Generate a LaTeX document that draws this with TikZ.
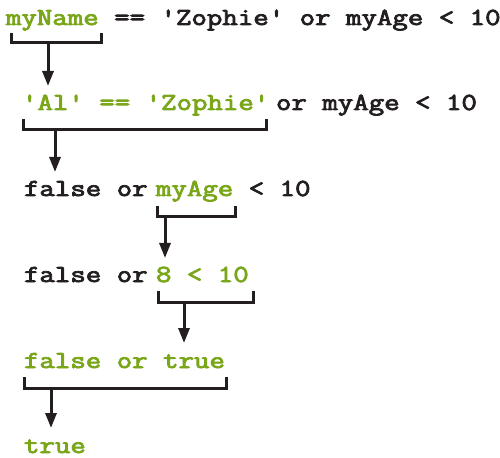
\documentclass[tikz,border=0pt]{standalone}
\usepackage{fontspec}
\newfontfamily\codefont{Latin Modern Mono}[FakeBold=3]
\usetikzlibrary{arrows.meta}
\definecolor{codegreen}{RGB}{122,166,26}
\definecolor{codeblack}{RGB}{35,31,32}
\newcommand{\codetxt}[1]{\scalebox{1.225}[1]{\fontsize{24.5bp}{30bp}\codefont #1}}
\begin{document}
\begin{tikzpicture}[x=1bp,y=-1bp,
  txt/.style={anchor=base west,inner sep=0pt,outer sep=0pt},
  grn/.style={txt,text=codegreen},
  blk/.style={txt,text=codeblack},
  brk/.style={draw=codeblack,line width=3bp,line cap=butt,line join=miter},
  arr/.style={draw=codeblack,line width=3bp,-{Triangle[length=15bp,width=11bp]}}]
\useasboundingbox (0,0) rectangle (500,458);
% line 1
\node[grn] (l1a) at (6,25) {\codetxt{myName}};
\node[blk] (l1b) at (l1a.base east) {\codetxt{\ == 'Zophie' or myAge < 10}};
% line 2
\node[grn] (l2a) at (22,110) {\codetxt{'Al' == 'Zophie'}};
\node[blk] (l2b) at (276,110) {\codetxt{or myAge < 10}};
% line 3
\node[blk] (l3a) at (24,196) {\codetxt{false or}};
\node[grn] (l3b) at (156,196) {\codetxt{myAge}};
\node[blk] (l3c) at (l3b.base east) {\codetxt{\ < 10}};
% line 4
\node[blk] (l4a) at (24,282) {\codetxt{false or}};
\node[grn] (l4b) at (156,282) {\codetxt{8 < 10}};
% line 5
\node[grn] (l5) at (24,368) {\codetxt{false or true}};
% line 6
\node[grn] (l6) at (24,453) {\codetxt{true}};
% brackets
\draw[brk] (11,33) -- (11,43) -- (101,43) -- (101,33);
\draw[brk] (23,119) -- (23,130) -- (266,130) -- (266,119);
\draw[brk] (157,206) -- (157,217) -- (235,217) -- (235,206);
\draw[brk] (158,291) -- (158,302) -- (253,302) -- (253,291);
\draw[brk] (24,377) -- (24,388) -- (226,388) -- (226,377);
% arrows
\coordinate (a1s) at (48,43);  \coordinate (a1e) at (48,86);
\coordinate (a2s) at (55,130); \coordinate (a2e) at (55,172);
\coordinate (a3s) at (165,217); \coordinate (a3e) at (165,258);
\coordinate (a4s) at (184,302); \coordinate (a4e) at (184,343);
\coordinate (a5s) at (51,388); \coordinate (a5e) at (51,428);
\draw[arr] (a1s) -- (a1e);
\draw[arr] (a2s) -- (a2e);
\draw[arr] (a3s) -- (a3e);
\draw[arr] (a4s) -- (a4e);
\draw[arr] (a5s) -- (a5e);
\end{tikzpicture}
\end{document}
